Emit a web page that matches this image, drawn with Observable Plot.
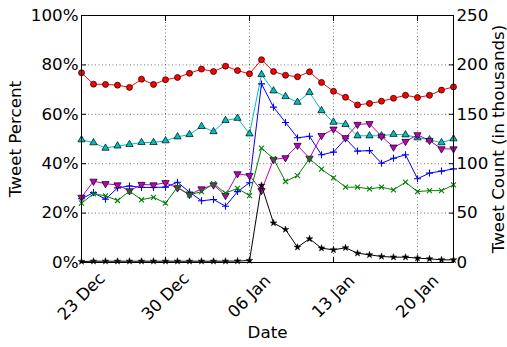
<!DOCTYPE html>
<html><head><meta charset="utf-8">
<script src="https://cdn.jsdelivr.net/npm/d3@7"></script>
<script src="https://cdn.jsdelivr.net/npm/@observablehq/plot@0.6"></script>
<style>body{margin:0;background:#fff} svg{display:block}</style>
</head><body><div id="chart"></div>
<script>
const dates = ["2012-12-23","2012-12-24","2012-12-25","2012-12-26","2012-12-27","2012-12-28","2012-12-29","2012-12-30","2012-12-31","2013-01-01","2013-01-02","2013-01-03","2013-01-04","2013-01-05","2013-01-06","2013-01-07","2013-01-08","2013-01-09","2013-01-10","2013-01-11","2013-01-12","2013-01-13","2013-01-14","2013-01-15","2013-01-16","2013-01-17","2013-01-18","2013-01-19","2013-01-20","2013-01-21","2013-01-22","2013-01-23"];
const redPct = [76.8,72.2,72.1,71.8,70.9,74.2,72.1,74.0,74.9,76.6,78.3,77.3,79.5,77.7,76.4,82.1,77.3,75.8,75.2,77.2,72.9,69.3,66.9,63.8,64.4,65.3,66.5,67.7,66.8,67.7,69.8,71.1];
const cyanPct = [49.7,48.5,46.3,47.2,47.8,48.6,48.6,49.3,50.9,51.8,55.1,53.0,57.5,58.4,52.1,76.1,69.5,67.2,64.9,68.9,61.5,56.8,55.9,51.3,51.3,51.3,51.9,51.7,50.5,49.7,48.5,50.1];
const bluePct = [25.8,28.3,25.6,30.2,31.0,30.4,30.4,30.5,32.5,28.5,25.0,25.5,22.8,28.7,32.3,72.3,62.9,56.7,50.5,51.1,43.6,44.7,50.1,45.1,45.3,40.2,42.2,43.6,33.9,36.2,37.0,37.9];
const magentaPct = [26.4,32.9,31.9,31.4,29.0,31.6,31.4,32.3,30.2,27.5,29.8,31.4,27.1,35.9,35.2,29.1,41.7,42.4,47.4,42.2,51.4,54.0,50.5,55.9,56.2,51.1,46.7,49.0,51.7,49.4,46.0,46.0];
const greenPct = [24.0,27.8,27.0,25.1,28.9,25.4,26.4,24.0,30.5,27.4,28.7,31.9,28.1,30.0,27.1,46.3,42.0,32.8,35.2,42.0,37.8,34.3,30.5,30.5,29.8,30.5,29.4,32.5,28.7,29.1,29.1,31.4];
const tweetCount = [1.0,1.3,1.3,1.3,1.3,1.3,1.3,1.3,1.3,1.3,1.3,1.3,1.3,1.5,2.0,78,40,33.4,15.5,24,14.5,12.8,14.9,9.4,7.8,6.1,5.4,5.4,4.4,3.7,2.7,2.7];
const xTickDates = ["2012-12-23","2012-12-30","2013-01-06","2013-01-13","2013-01-20"];
const xTickLabels = ["23 Dec","30 Dec","06 Jan","13 Jan","20 Jan"];
const yPctTicks = [0,20,40,60,80,100];
const countMax = 250;

const parse = d3.utcParse("%Y-%m-%d");
const rows = dates.map((d,i) => ({date: parse(d), red: redPct[i], cyan: cyanPct[i], blue: bluePct[i], magenta: magentaPct[i], green: greenPct[i], count: tweetCount[i]}));
const xTicks = xTickDates.map(parse);
const xLabelRows = xTicks.map((d,i) => ({date: d, label: xTickLabels[i]}));
const countY = d => d.count / countMax * 100;

const FS = 16.7;
const series = [
  {y: "red", color: "#ff0000", symbol: "circle", r: 3.0, filled: true},
  {y: "cyan", color: "#00bfbf", symbol: "triangle", r: 2.7, filled: true},
  {y: "blue", color: "#0000ff", symbol: "plus", r: 2.4, filled: false},
  {y: "magenta", color: "#bf00bf", symbol: "triangle", r: 2.7, filled: true, rotate: 180},
  {y: "green", color: "#008000", symbol: "times", r: 2.4, filled: false}
];
const marks = [
  Plot.gridY(yPctTicks, {stroke: "black", strokeOpacity: 0.55, strokeDasharray: "1,2.5"}),
  Plot.gridX(xTicks, {stroke: "black", strokeOpacity: 0.55, strokeDasharray: "1,2.5"})
];
for (const s of series) {
  marks.push(Plot.line(rows, {x: "date", y: s.y, stroke: s.color, strokeWidth: 1}));
  marks.push(Plot.dot(rows, {x: "date", y: s.y, symbol: s.symbol, r: s.r, rotate: s.rotate || 0,
    fill: s.filled ? s.color : "none", stroke: s.filled ? "black" : s.color, strokeWidth: s.filled ? 0.7 : 1.1}));
}
marks.push(Plot.line(rows, {x: "date", y: countY, stroke: "black", strokeWidth: 1}));
marks.push(Plot.dot(rows, {x: "date", y: countY, symbol: "star", r: 2.1, fill: "black", stroke: "black", strokeWidth: 0.5}));
marks.push(
  Plot.frame({stroke: "black", strokeWidth: 1}),
  Plot.axisY(yPctTicks, {anchor: "left", tickSize: -5, tickPadding: 8, tickFormat: d => d + "%", label: null, fontSize: FS}),
  Plot.axisY(yPctTicks, {anchor: "right", tickSize: -5, tickPadding: 8, tickFormat: d => String(d / 100 * countMax), label: null, fontSize: FS}),
  Plot.axisX(xTicks, {anchor: "bottom", tickSize: -5, tickFormat: () => "", label: null}),
  Plot.axisX(xTicks, {anchor: "top", tickSize: -5, tickFormat: () => "", label: null}),
  Plot.text(xLabelRows, {x: "date", text: "label", frameAnchor: "bottom", dy: 34, rotate: -45, textAnchor: "middle", lineAnchor: "middle", fontSize: FS, fill: "black"}),
  Plot.text(["Tweet Percent"], {frameAnchor: "left", dx: -66, rotate: -90, textAnchor: "middle", lineAnchor: "middle", fontSize: FS, fill: "black"}),
  Plot.text(["Tweet Count (in thousands)"], {frameAnchor: "right", dx: 45, rotate: -90, textAnchor: "middle", lineAnchor: "middle", fontSize: FS, fill: "black"}),
  Plot.text(["Date"], {frameAnchor: "bottom", dy: 70, textAnchor: "middle", lineAnchor: "middle", fontSize: FS, fill: "black"})
);

const chart = Plot.plot({
  width: 507, height: 347,
  marginLeft: 81, marginRight: 54, marginTop: 15, marginBottom: 85,
  style: {fontFamily: "'DejaVu Sans', sans-serif", fontSize: FS + "px", background: "white", color: "black", overflow: "visible"},
  x: {type: "utc", domain: [parse("2012-12-23"), parse("2013-01-23")]},
  y: {domain: [0, 100]},
  marks
});
document.getElementById("chart").appendChild(chart);
</script></body></html>
